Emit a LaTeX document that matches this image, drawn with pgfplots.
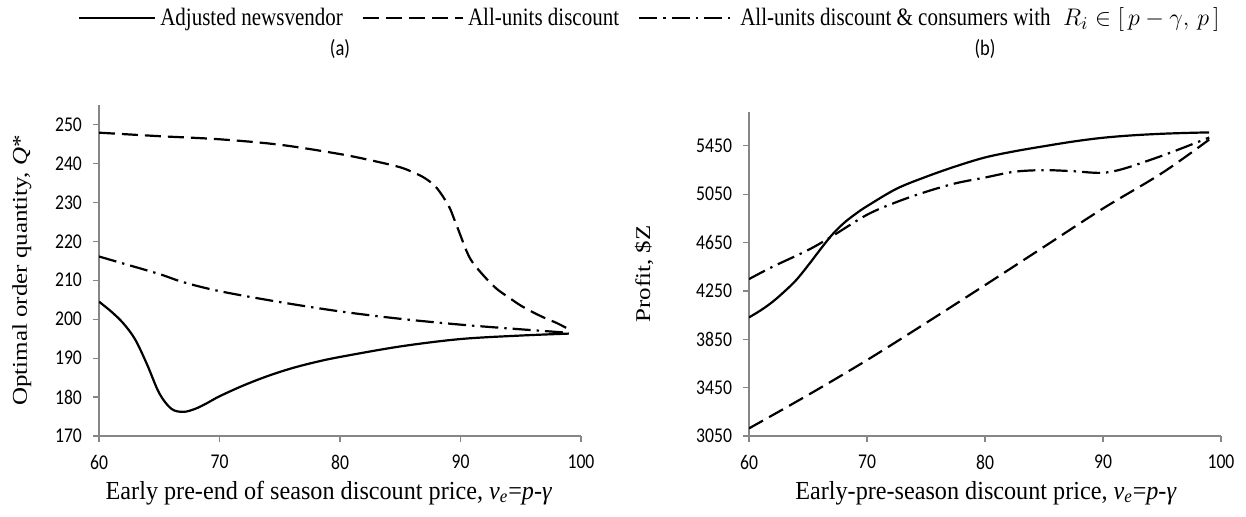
\documentclass[border=0pt]{standalone}
\usepackage{pgfplots}
\pgfplotsset{compat=1.18}
\usepackage{fontspec}
\setmainfont{Liberation Serif}
\newfontfamily\carlito{Carlito}
\definecolor{axgray}{RGB}{134,134,134}

\pgfplotstableread{
x y
60 204.5
61 202.0
62 199.0
63 194.8
64 188.3
65 181.0
66 177.0
67 176.2
68 177.0
69 178.5
70 180.2
72 183.0
74 185.4
76 187.4
78 189.0
80 190.3
85 193.0
90 194.9
95 195.8
99 196.3
}\leftsolid
\pgfplotstableread{
x y
60 247.9
65 247.0
70 246.2
75 244.8
80 242.4
83 240.5
85 239.0
86 237.8
87 236.3
88 233.8
89 229.2
89.5 225.5
90 221.5
90.5 217.5
91 214.6
92 210.9
93 207.8
94 205.6
95 203.5
96 201.8
97 200.3
98 199.0
99 197.4
}\leftdashed
\pgfplotstableread{
x y
60 216.1
62 214.3
65 211.6
67 209.5
70 207.2
75 204.4
80 202.0
85 200.1
90 198.6
95 197.4
99 196.5
}\leftdashdot
\pgfplotstableread{
x y
60 4031
61 4090
62 4160
63 4245
64 4340
65 4460
66 4588
67 4710
68 4808
69 4885
70 4951
72.5 5095
75 5194
77.5 5280
80 5354
82.5 5405
85 5447
87.5 5486
90 5517
92.5 5537
95 5550
97.5 5558
99 5561
}\rightsolid
\pgfplotstableread{
x y
60 3113
65 3389
70 3678
75 3985
80 4298
85 4615
90 4932
95 5225
99 5502
}\rightdashed
\pgfplotstableread{
x y
60 4348
62 4450
65 4588
67 4700
70 4880
72.5 4985
75 5070
77.5 5140
80 5188
82.5 5236
85 5249
87.5 5240
89 5229
90 5227
91 5242
92 5268
93 5300
95 5368
97 5442
99 5519
}\rightdashdot

\pgfplotsset{
  mystyle/.style={
    scale only axis,
    axis x line=bottom, axis y line=left,
    axis line style={-, draw=axgray, line width=0.7pt},
    tick style={draw=axgray, line width=0.6pt},
    tick align=outside,
    major tick length=3pt,
    xmin=60, xmax=100,
    xtick={60,70,80,90,100},
    scaled y ticks=false,
    every tick label/.append style={font=\carlito\fontsize{10.5}{12}\selectfont, text=black},
    xticklabel style={yshift=-3pt},
    yticklabel style={xshift=-2pt},
    xticklabel={\scalebox{0.84}[1]{\pgfmathprintnumber[assume math mode=true,1000 sep={}]{\tick}}},
    yticklabel={\scalebox{0.84}[1]{\pgfmathprintnumber[assume math mode=true,1000 sep={}]{\tick}}},
    label style={font=\fontsize{13}{15}\selectfont},
    title style={font=\carlito\fontsize{11}{13}\selectfont},
  },
  solidL/.style={black, line width=1.1pt, smooth, tension=0.55},
  dashedL/.style={black, line width=1.1pt, smooth, tension=0.55, dash pattern=on 8pt off 3.5pt},
  dashdotL/.style={black, line width=1.1pt, smooth, tension=0.55, dash pattern=on 9pt off 3pt on 1.2pt off 3pt},
  legA/.style={legend image code/.code={\draw[##1, smooth=false] (0pt,0pt) -- (38pt,0pt);}},
  legB/.style={legend image code/.code={\draw[##1, smooth=false] (0pt,0pt) -- (50pt,0pt);}},
  legC/.style={legend image code/.code={\draw[##1, smooth=false] (0pt,0pt) -- (48pt,0pt);}},
}

\begin{document}
\begin{tikzpicture}
\begin{axis}[mystyle,
  at={(49.5pt,40pt)}, anchor=south west,
  width=241pt, height=165.5pt,
  ymin=170, ymax=255,
  ytick={170,180,...,250},
  ylabel={\scalebox{1}[0.84]{\fontsize{12.5}{14}\selectfont Optimal order quantity, \textit{Q}*}},
  ylabel style={at={(axis description cs:-0.16,0.5)}, anchor=center},
  xlabel={\scalebox{0.93}[1]{Early pre-end of season discount price, \textit{v\textsubscript{e}}=\textit{p}-\textit{γ}}},
  xlabel style={at={(axis description cs:0.477,-0.172)}, anchor=center},
  title={\scalebox{0.84}[1]{(a)}},
  title style={at={(axis description cs:0.5,1)}, anchor=center, yshift=22pt},
  legend columns=3,
  legend style={draw=none, fill=none, at={(axis description cs:1.145,1.263)}, anchor=center,
    font=\fontsize{12.5}{14}\selectfont,
    /tikz/every even column/.append style={column sep=7.5pt},
    inner sep=0pt},
  legend cell align=left,
]
\addplot[solidL, legA] table[x=x,y=y]{\leftsolid};
\addlegendentry{\scalebox{0.84}[1]{Adjusted newsvendor}}
\addplot[dashedL, legB] table[x=x,y=y]{\leftdashed};
\addlegendentry{\scalebox{0.84}[1]{All-units discount}}
\addplot[dashdotL, legC] table[x=x,y=y]{\leftdashdot};
\addlegendentry{\scalebox{0.84}[1]{All-units discount \& consumers with}\ \ $R_i\in[\,p-\gamma,\,p\,]$}
\end{axis}

\begin{axis}[mystyle,
  at={(374.5pt,40pt)}, anchor=south west,
  width=236pt, height=162pt,
  ymin=3050, ymax=5730,
  ytick={3050,3450,...,5450},
  ylabel={\scalebox{1}[0.84]{\fontsize{12.5}{14}\selectfont Profit, \$Z}},
  ylabel style={at={(axis description cs:-0.222,0.5)}, anchor=center},
  xlabel={\scalebox{0.93}[1]{Early-pre-season discount price, \textit{v\textsubscript{e}}=\textit{p}-\textit{γ}}},
  xlabel style={at={(axis description cs:0.502,-0.176)}, anchor=center},
  title={\scalebox{0.84}[1]{(b)}},
  title style={at={(axis description cs:0.5,1)}, anchor=center, yshift=25.5pt},
]
\addplot[solidL] table[x=x,y=y]{\rightsolid};
\addplot[dashedL] table[x=x,y=y]{\rightdashed};
\addplot[dashdotL] table[x=x,y=y]{\rightdashdot};
\end{axis}
\pgfresetboundingbox
\useasboundingbox (0,0) rectangle (623pt,258pt);
\end{tikzpicture}
\end{document}
